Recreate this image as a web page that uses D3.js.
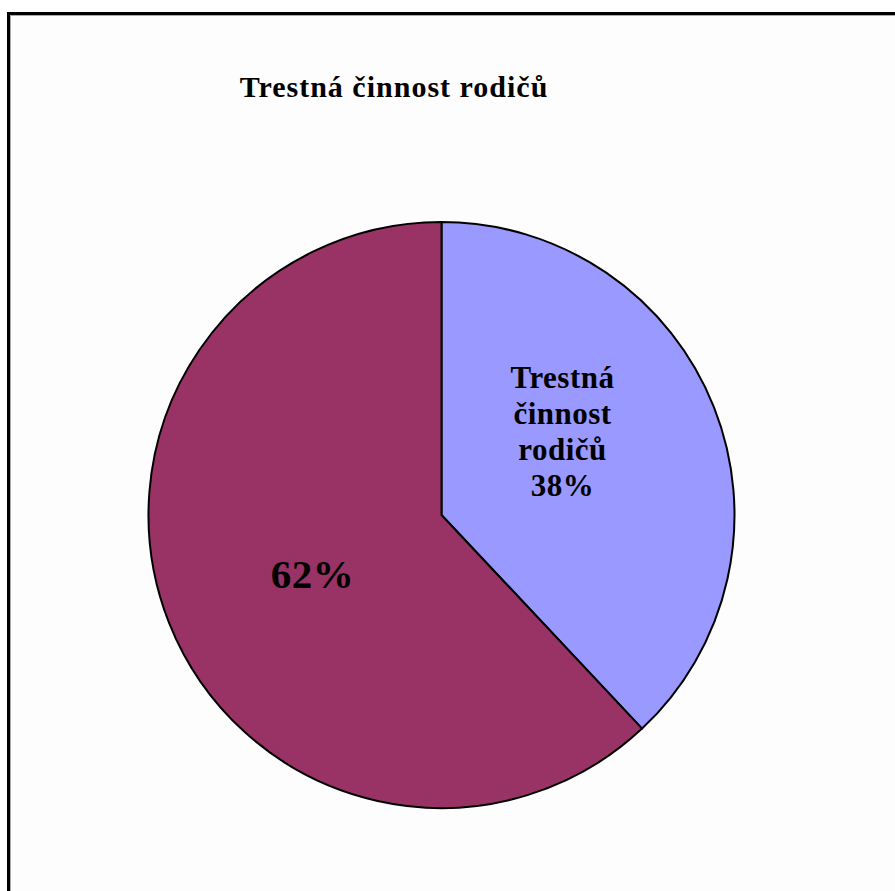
<!DOCTYPE html>
<html><head><meta charset="utf-8">
<script src="https://cdn.jsdelivr.net/npm/d3@7"></script>
<style>html,body{margin:0;padding:0;background:#fff;overflow:hidden;}</style>
</head><body>
<script>
const title = "Trestná činnost rodičů";
const categories = ["Trestná činnost rodičů", ""];
const values = [38, 62];
const labels = [["Trestná", "činnost", "rodičů", "38%"], ["62%"]];
const colors = ["#9999FF", "#993366"];

const W = 895, H = 891;
const svg = d3.select("body").append("svg").attr("width", W).attr("height", H);

// frame
svg.append("rect").attr("x", 8.5).attr("y", 13.5).attr("width", W).attr("height", H)
  .attr("fill", "#fdfdfd").attr("stroke", "#000").attr("stroke-width", 3);
svg.append("line").attr("x1", 10.5).attr("x2", 10.5).attr("y1", 15).attr("y2", H).attr("stroke", "#aaa").attr("stroke-width", 1);
svg.append("line").attr("x1", 10).attr("x2", W).attr("y1", 15.5).attr("y2", 15.5).attr("stroke", "#aaa").attr("stroke-width", 1);

svg.append("text").attr("x", 394).attr("y", 97).attr("text-anchor", "middle")
  .attr("font-family", "Liberation Serif, Times New Roman, serif").attr("font-weight", "bold")
  .attr("font-size", 30).attr("letter-spacing", 1).text(title);

const cx = 441.5, cy = 515, r = 293;
const pie = d3.pie().sort(null).value(d => d)(values);
const arc = d3.arc().innerRadius(0).outerRadius(r);
const g = svg.append("g").attr("transform", `translate(${cx},${cy})`);
g.selectAll("path").data(pie).join("path")
  .attr("d", arc).attr("fill", (d, i) => colors[i])
  .attr("stroke", "#000").attr("stroke-width", 2).attr("stroke-linejoin", "round");

// labels
const lab0 = g.append("text").attr("text-anchor", "middle")
  .attr("font-family", "Liberation Serif, Times New Roman, serif").attr("font-weight", "bold")
  .attr("font-size", 31).attr("letter-spacing", 0.5);
labels[0].forEach((t, i) => {
  lab0.append("tspan").attr("x", 121).attr("y", -127 + i * 36).text(t);
});
g.append("text").attr("text-anchor", "middle")
  .attr("font-family", "Liberation Serif, Times New Roman, serif").attr("font-weight", "bold")
  .attr("font-size", 41).attr("letter-spacing", 0.5).attr("x", -129).attr("y", 73).text(labels[1][0]);
</script>
</body></html>
